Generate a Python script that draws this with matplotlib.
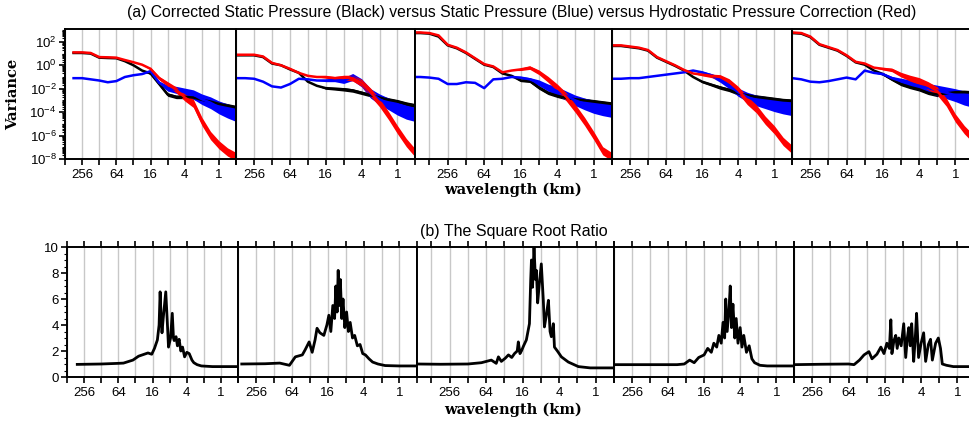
import numpy as np
import matplotlib.pyplot as plt
from matplotlib.ticker import MultipleLocator, NullLocator, LogLocator, NullFormatter

plt.rcParams['font.family'] = ['Liberation Sans', 'DejaVu Sans']

nan = np.nan

# ---- data -------------------------------------------------------------
# panel x-range (km): each panel covers its own domain, down to 0.5 km
x_max = [333, 452, 873, 471, 488]
x_min = 0.5

# spectra sampled every half octave (km)
spec_wl = [1024, 724, 512, 362, 256, 181, 128, 90.5, 64, 45.3, 32, 22.6,
           16, 11.3, 8, 5.66, 4, 2.83, 2, 1.41, 1, 0.71, 0.5]

# log10 of variance
black = [
    [nan, nan, nan, 1.05, 1.05, 1.0, 0.65, 0.62, 0.6, 0.35, 0.0, -0.45,
     -0.7, -1.6, -2.5, -2.7, -2.7, -2.75, -2.95, -3.1, -3.3, -3.45, -3.6],
    [nan, nan, 0.85, 0.85, 0.85, 0.7, 0.15, 0.0, -0.35, -0.65, -1.4, -1.75,
     -1.95, -2.0, -2.05, -2.15, -2.35, -2.55, -2.75, -2.95, -3.1, -3.3, -3.45],
    [2.75, 2.75, 2.7, 2.45, 1.7, 1.45, 1.05, 0.55, 0.05, -0.15, -0.7, -0.9,
     -1.3, -1.35, -1.9, -2.35, -2.6, -2.8, -2.9, -3.0, -3.1, -3.2, -3.3],
    [nan, nan, 1.65, 1.65, 1.55, 1.45, 1.25, 0.65, 0.3, -0.05, -0.45, -1.0,
     -1.4, -1.65, -1.9, -2.1, -2.4, -2.55, -2.7, -2.8, -2.9, -3.0, -3.05],
    [nan, nan, 2.75, 2.7, 2.4, 1.75, 1.5, 1.25, 0.8, 0.25, 0.05, -0.45,
     -0.75, -1.2, -1.6, -1.85, -2.05, -2.35, -2.5, -2.4, -2.3, -2.3, -2.35],
]
blue = [
    [nan, nan, nan, -1.1, -1.1, -1.2, -1.3, -1.45, -1.35, -1.0, -0.85, -0.75,
     -0.5, -1.5, -1.95, -2.1, -2.3, -2.5, -2.9, -3.2, -3.6, -3.9, -4.2],
    [nan, nan, -1.1, -1.1, -1.15, -1.4, -1.8, -1.9, -1.6, -1.15, -1.2, -1.3,
     -1.3, -1.25, -1.3, -1.0, -1.5, -2.4, -2.9, -3.3, -3.7, -4.0, -4.2],
    [-1.0, -1.0, -1.05, -1.15, -1.6, -1.6, -1.45, -1.5, -1.95, -1.2, -1.15, -1.0,
     -1.05, -1.2, -1.5, -1.9, -2.2, -2.6, -3.0, -3.3, -3.55, -3.7, -3.85],
    [nan, nan, -1.15, -1.15, -1.1, -1.1, -1.0, -0.9, -0.8, -0.7, -0.6, -0.45,
     -0.6, -0.85, -1.2, -1.7, -2.3, -2.7, -3.0, -3.2, -3.4, -3.55, -3.7],
    [nan, nan, -1.1, -1.2, -1.4, -1.45, -1.35, -1.2, -1.05, -1.2, -0.45, -0.65,
     -0.75, -1.1, -1.35, -1.55, -1.75, -1.95, -2.15, -2.35, -2.55, -2.8, -3.0],
]
red = [
    [nan, nan, nan, 1.1, 1.1, 1.05, 0.7, 0.68, 0.65, 0.45, 0.26, 0.05,
     -0.3, -1.1, -1.6, -2.1, -2.75, -3.25, -4.8, -6.0, -6.8, -7.4, -7.8],
    [nan, nan, 0.9, 0.9, 0.9, 0.75, 0.2, 0.0, -0.3, -0.65, -0.9, -1.0,
     -1.0, -1.1, -1.05, -1.1, -1.5, -2.3, -3.2, -4.3, -5.5, -6.6, -7.5],
    [2.8, 2.8, 2.75, 2.55, 1.75, 1.5, 1.1, 0.6, 0.1, -0.1, -0.6, -0.45,
     -0.35, -0.2, -0.6, -1.2, -1.9, -2.7, -3.7, -4.8, -6.0, -7.3, -7.8],
    [nan, nan, 1.7, 1.7, 1.6, 1.5, 1.3, 0.7, 0.35, 0.0, -0.4, -0.7,
     -0.8, -0.9, -1.0, -1.4, -2.1, -3.0, -3.7, -4.7, -5.5, -6.5, -7.2],
    [nan, nan, 2.8, 2.75, 2.45, 1.8, 1.55, 1.3, 0.85, 0.3, 0.15, -0.2,
     -0.3, -0.4, -0.8, -1.1, -1.35, -1.75, -2.2, -3.15, -4.5, -5.5, -6.3],
]
# half thickness (decades) of the noisy band at small wavelengths
spread_black = [0] * 12 + [0.1, 0.12, 0.15, 0.15, 0.15, 0.15, 0.18, 0.18, 0.18, 0.18, 0.18]
spread_blue = [0] * 12 + [0.1, 0.15, 0.25, 0.3, 0.35, 0.4, 0.45, 0.5, 0.55, 0.6, 0.6]
spread_red = [0] * 12 + [0.1, 0.15, 0.2, 0.25, 0.3, 0.35, 0.35, 0.35, 0.35, 0.35, 0.35]

# square root ratio: (log2 wavelength, value)
ratio_log2wl = [
    [8.4, 7, 6, 5.7, 5.15, 4.82, 4.27, 4.05, 3.89, 3.72, 3.62, 3.56, 3.5, 3.45,
     3.38, 3.23, 3.15, 3.07, 2.95, 2.85, 2.78, 2.74, 2.63, 2.55, 2.45, 2.35,
     2.25, 2.13, 2.0, 1.86, 1.7, 1.59, 1.4, 1.15, 0.5, -1],
    [8.8, 7.5, 6.68, 6.14, 5.81, 5.42, 5.26, 5.04, 4.87, 4.71, 4.6, 4.44, 4.22,
     4.05, 3.94, 3.83, 3.72, 3.62, 3.55, 3.48, 3.42, 3.36, 3.3, 3.22, 3.15,
     3.05, 2.95, 2.85, 2.75, 2.62, 2.5, 2.35, 2.2, 2.05, 1.9, 1.7, 1.5, 1.2,
     0.8, 0, -1],
    [9.8, 8.5, 7, 6.26, 5.72, 5.45, 5.33, 5.17, 4.95, 4.78, 4.6, 4.45, 4.3,
     4.24, 4.15, 4.07, 3.95, 3.8, 3.63, 3.56, 3.52, 3.46, 3.38, 3.3, 3.25,
     3.18, 3.1, 2.98, 2.87, 2.81, 2.7, 2.59, 2.5, 2.43, 2.32, 2.26, 2.1, 1.88,
     1.5, 0.95, 0.3, -1],
    [8.9, 7, 5.5, 5.1, 4.8, 4.55, 4.3, 4.0, 3.8, 3.6, 3.46, 3.3, 3.18, 3.05,
     2.95, 2.86, 2.8, 2.72, 2.62, 2.55, 2.48, 2.4, 2.3, 2.22, 2.12, 2.0, 1.9,
     1.8, 1.65, 1.5, 1.35, 1.2, 0.9, 0.5, -1],
    [9.0, 7.5, 6.0, 5.7, 5.4, 5.15, 4.88, 4.71, 4.44, 4.22, 4.05, 3.89, 3.75,
     3.67, 3.61, 3.5, 3.4, 3.32, 3.23, 3.1, 2.96, 2.85, 2.76, 2.68, 2.6, 2.52,
     2.41, 2.33, 2.25, 2.14, 2.0, 1.86, 1.75, 1.6, 1.48, 1.38, 1.2, 1.05, 0.93,
     0.83, 0.6, 0.22, -1],
]
ratio_val = [
    [0.97, 1.0, 1.05, 1.07, 1.3, 1.6, 1.85, 1.75, 2.2, 2.85, 4.0, 6.55, 4.5, 3.4,
     4.5, 6.55, 4.5, 2.3, 3.0, 4.9, 3.0, 2.8, 3.1, 2.4, 2.9, 2.0,
     2.3, 1.55, 1.9, 1.8, 1.3, 1.1, 0.95, 0.85, 0.8, 0.8],
    [1.0, 1.02, 1.07, 0.9, 1.55, 1.7, 2.1, 2.7, 1.9, 2.85, 3.75, 3.4, 3.2,
     4.0, 4.75, 3.5, 5.5, 4.5, 7.0, 5.0, 8.2, 5.5, 7.5, 4.5, 6.0,
     3.8, 5.0, 3.5, 4.2, 3.0, 3.2, 2.4, 2.5, 1.8, 1.7, 1.4, 1.15, 1.0,
     0.88, 0.85, 0.85],
    [1.0, 0.98, 1.0, 1.1, 1.3, 1.05, 1.55, 1.2, 1.45, 1.7, 1.5, 1.8, 2.0,
     2.7, 1.8, 2.0, 2.4, 2.85, 4.1, 7.5, 9.0, 6.9, 10.0, 7.5, 8.2,
     5.7, 7.0, 8.7, 5.9, 3.85, 4.8, 5.9, 3.5, 3.1, 4.1, 2.3, 2.0, 1.55,
     1.15, 0.8, 0.7, 0.7],
    [0.95, 0.95, 0.95, 1.0, 1.3, 1.1, 1.5, 1.7, 2.2, 1.9, 2.6, 2.3, 3.2, 2.6,
     4.2, 3.0, 6.0, 3.5, 5.2, 7.0, 3.8, 5.6, 3.0, 4.5, 2.6, 3.8, 2.3,
     3.2, 1.9, 2.4, 1.4, 1.1, 0.9, 0.85, 0.85],
    [0.95, 0.98, 1.0, 0.95, 1.3, 1.7, 1.95, 1.4, 1.75, 2.3, 1.8, 2.6, 2.2,
     4.4, 1.8, 2.8, 3.2, 2.2, 3.0, 2.4, 4.1, 1.5, 3.0, 3.8, 2.4, 4.1,
     1.2, 2.8, 4.9, 1.5, 2.6, 3.4, 1.2, 2.5, 2.9, 1.3, 2.6, 3.0, 2.2,
     1.0, 0.9, 0.8, 0.8],
]

grid_km = [512, 256, 128, 64, 32, 16, 8, 4, 2, 1, 0.5]
grid_lab = ['', '256', '', '64', '', '16', '', '4', '', '1', '']

# ---- layout -----------------------------------------------------------
W, H = 970.0, 428.0
PX_OCT = 18.25  # pixels per octave of wavelength


def boxes(x_start, y_top, y_bot):
    out = []
    x = x_start
    for xm in x_max:
        w = np.log2(xm / x_min) * PX_OCT
        out.append([x / W, 1 - y_bot / H, w / W, (y_bot - y_top) / H])
        x += w
    return out


fig = plt.figure(figsize=(9.7, 4.28), dpi=100)


def style(ax, xm, first, top_ticks):
    ax.set_xscale('log', base=2)
    ax.set_xlim(xm, x_min)
    ax.set_xticks(grid_km, grid_lab)
    ax.xaxis.set_minor_locator(NullLocator())
    ax.grid(axis='x', color='#c8c8c8', lw=1.0)
    ax.set_axisbelow(True)
    for s in ax.spines.values():
        s.set_linewidth(1.4)
    ax.tick_params(axis='x', which='major', direction='out', length=4, width=1.2,
                   top=top_ticks, bottom=True, labelsize=9.5, pad=3)
    if first:
        ax.tick_params(axis='y', which='major', direction='out', length=4,
                       width=1.2, labelsize=9.5, pad=2)
        ax.tick_params(axis='y', which='minor', direction='out', length=2.5,
                       width=0.8)
    else:
        ax.tick_params(axis='y', which='both', left=False, labelleft=False)


# (a) spectra
for i, box in enumerate(boxes(65, 29, 159)):
    ax = fig.add_axes(box)
    for vals, spr, col in ((black[i], spread_black, '#000000'),
                           (blue[i], spread_blue, '#0000ff'),
                           (red[i], spread_red, '#ff0000')):
        v = np.array(vals)
        s = np.array(spr, dtype=float)
        ax.fill_between(spec_wl, 10 ** (v - s), 10 ** (v + s), color=col, lw=0)
        ax.plot(spec_wl, 10 ** v, color=col, lw=1.8)
    ax.set_yscale('log')
    ax.set_ylim(1e-8, 1.25e3)
    ax.set_yticks([10.0 ** e for e in range(-8, 3, 2)],
                  [r'$\mathdefault{10^{%d}}$' % e for e in range(-8, 3, 2)])
    ax.yaxis.set_minor_locator(LogLocator(base=10, subs=np.arange(1, 10), numticks=20))
    ax.yaxis.set_minor_formatter(NullFormatter())
    style(ax, x_max[i], i == 0, False)

# (b) ratio
for i, box in enumerate(boxes(67, 247, 377)):
    ax = fig.add_axes(box)
    ax.plot(2.0 ** np.array(ratio_log2wl[i]), ratio_val[i], color='k', lw=2.0)
    ax.set_ylim(0, 10)
    ax.set_yticks(range(0, 11, 2))
    ax.yaxis.set_minor_locator(MultipleLocator(0.5))
    style(ax, x_max[i], i == 0, True)

fig.text(522 / W, 1 - 13 / H, '(a) Corrected Static Pressure (Black) versus Static Pressure '
         '(Blue) versus Hydrostatic Pressure Correction (Red)',
         ha='center', va='center', fontsize=11.3)
fig.text(514 / W, 1 - 232 / H, '(b) The Square Root Ratio',
         ha='center', va='center', fontsize=11.5)
fig.text(13 / W, 1 - 94 / H, 'Variance', rotation=90, ha='center', va='center',
         fontsize=10.5, family='DejaVu Serif', weight='bold')
for yy in (190, 410):
    fig.text(513 / W, 1 - yy / H, 'wavelength (km)', ha='center', va='center',
             fontsize=10.5, family='DejaVu Serif', weight='bold')

fig.savefig('out.png', dpi=100)
